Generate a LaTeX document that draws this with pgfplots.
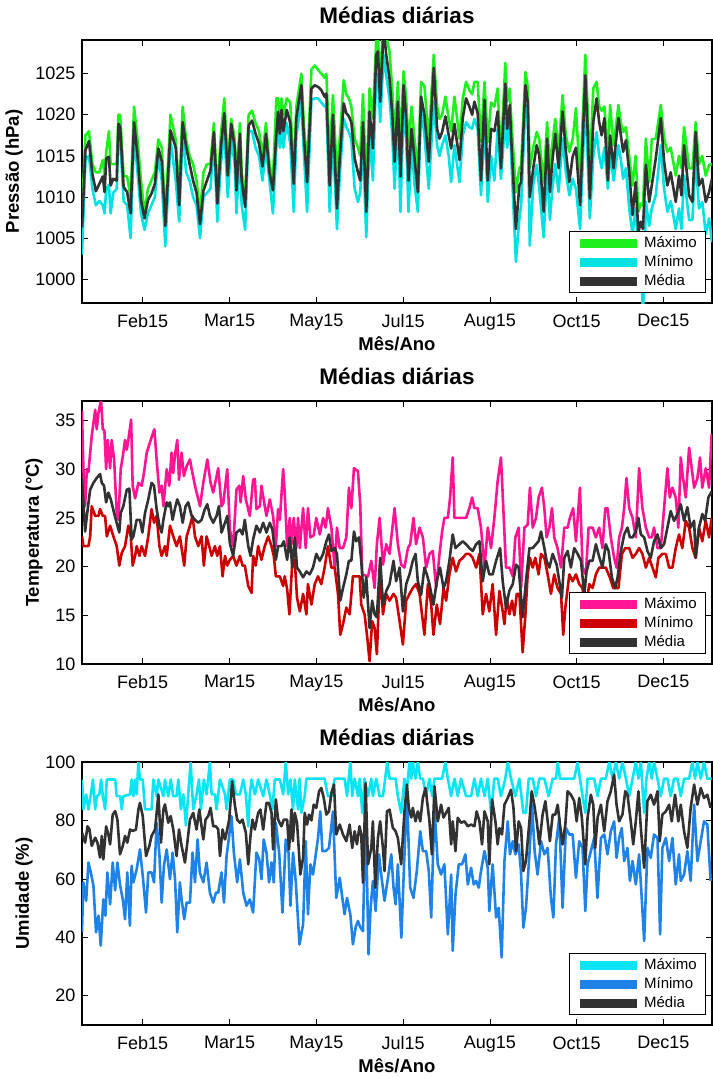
\documentclass[border=0pt]{standalone}
\usepackage{fontspec}
\setmainfont{Liberation Sans}
\usepackage{pgfplots}
\usepackage{pgfplotstable}
\pgfplotsset{compat=1.18}
\definecolor{pmax}{RGB}{30,240,30}
\definecolor{pmin}{RGB}{0,225,225}
\definecolor{avg}{RGB}{50,50,50}
\definecolor{tmax}{RGB}{255,20,147}
\definecolor{tmin}{RGB}{204,0,0}
\definecolor{hmax}{RGB}{10,228,245}
\definecolor{hmin}{RGB}{30,130,230}
\pgfplotsset{
 panel/.style={
  scale only axis, width=630bp, height=263bp,
  xmin=0, xmax=363,
  xtick={35,85,135,185,235,285,335},
  xticklabels={Feb15,Mar15,May15,Jul15,Aug15,Oct15,Dec15},
  tick align=inside, major tick length=6bp,
  tick style={black, line width=0.6bp},
  axis line style={black, line width=1.1bp},
  ticklabel style={font=\fontsize{18bp}{20bp}\selectfont},
  xticklabel style={yshift=-8bp},
  yticklabel style={xshift=-3bp},
  /pgf/number format/assume math mode=true,
  /pgf/number format/1000 sep={},
  title={Médias diárias},
  title style={font=\fontsize{22.5bp}{24bp}\selectfont\bfseries, at={(axis description cs:0.5,1)}, anchor=base, yshift=11bp},
  xlabel={Mês/Ano},
  xlabel style={font=\fontsize{18.5bp}{20bp}\selectfont\bfseries, at={(axis description cs:0.5,0)}, anchor=base, yshift=-47bp},
  ylabel style={font=\fontsize{18.5bp}{20bp}\selectfont\bfseries, yshift=6bp},
  legend style={at={(axis description cs:1,0)}, anchor=south east, xshift=-6bp, yshift=10bp, draw=black, line width=0.8bp, fill=white, font=\fontsize{15bp}{16bp}\selectfont, inner xsep=6bp, inner ysep=2bp, row sep=0bp, nodes={inner ysep=2.5bp, inner xsep=3bp, text height=11bp, text depth=3bp}},
  legend cell align=left,
  legend image code/.code={\draw[#1, line width=9bp] (0bp,0bp) -- (57bp,0bp);},
  every axis plot/.append style={line width=2.6bp, line join=round},
 }
}
\pgfplotstableread[row sep=\\]{
x max min mean\\
0 1008.0 1003.0 1006.3\\
2 1017.5 1014.5 1015.7\\
4 1018.0 1015.0 1016.8\\
6 1014.0 1011.0 1012.8\\
8 1013.0 1009.0 1010.7\\
10 1013.0 1009.5 1011.6\\
12 1014.5 1009.0 1012.5\\
13 1012.5 1008.0 1010.6\\
14 1015.5 1011.0 1014.7\\
15.5 1018.0 1011.5 1014.9\\
16.5 1014.0 1008.0 1011.4\\
18 1014.0 1010.5 1012.2\\
20 1014.0 1011.0 1012.0\\
21 1020.0 1018.0 1018.9\\
22 1020.0 1017.0 1018.5\\
24 1012.5 1009.5 1011.2\\
26 1012.5 1009.0 1010.6\\
28 1010.0 1005.0 1008.0\\
30 1021.0 1017.5 1019.1\\
32 1017.0 1013.0 1015.0\\
34 1012.0 1008.0 1009.6\\
36 1008.0 1006.0 1007.4\\
38 1011.0 1008.0 1009.6\\
40 1012.0 1009.0 1010.4\\
42 1013.0 1010.0 1011.6\\
44 1017.0 1015.0 1015.9\\
46 1016.0 1012.0 1014.3\\
48 1007.5 1004.0 1006.5\\
51 1020.0 1017.0 1018.1\\
54 1017.0 1012.0 1016.0\\
56 1010.5 1007.0 1009.0\\
58 1021.0 1018.0 1019.1\\
60 1017.0 1013.0 1016.1\\
62 1015.0 1012.0 1014.0\\
64 1014.0 1010.0 1012.0\\
66 1012.0 1009.0 1010.5\\
68 1008.0 1005.0 1006.7\\
70 1013.0 1010.0 1010.8\\
72 1014.0 1010.5 1012.0\\
74 1014.0 1011.0 1013.2\\
76 1019.0 1017.0 1017.9\\
78 1010.5 1007.0 1009.2\\
80 1017.5 1014.0 1016.0\\
82 1022.0 1018.0 1020.2\\
84 1014.0 1010.0 1012.6\\
86 1019.5 1017.0 1018.9\\
88 1017.0 1014.0 1016.0\\
89 1012.0 1008.0 1010.8\\
91 1019.0 1016.0 1017.7\\
92 1013.0 1009.0 1012.0\\
94 1010.0 1006.0 1008.8\\
96 1020.0 1018.0 1018.7\\
98 1020.5 1018.0 1019.3\\
100 1019.0 1016.0 1017.7\\
102 1018.0 1015.0 1016.5\\
104 1015.0 1012.0 1013.7\\
106 1019.0 1016.0 1017.7\\
108 1014.0 1012.0 1013.0\\
110 1012.0 1008.0 1010.8\\
112 1022.0 1016.0 1017.7\\
113 1022.0 1019.0 1020.4\\
114 1020.0 1016.0 1017.7\\
115 1022.0 1019.0 1020.6\\
116 1020.0 1016.0 1018.0\\
118 1022.0 1019.0 1020.6\\
120 1021.5 1016.5 1019.0\\
122 1012.5 1008.2 1011.6\\
123.5 1021.0 1017.5 1019.6\\
126.4 1025.0 1021.6 1023.6\\
127.8 1019.0 1015.5 1017.5\\
129.7 1013.5 1008.2 1011.8\\
132.2 1025.5 1021.8 1023.2\\
134.1 1026.0 1022.0 1023.6\\
136 1025.5 1022.0 1023.4\\
137.9 1025.0 1021.5 1023.0\\
139.8 1024.5 1021.0 1022.2\\
140.8 1025.0 1021.0 1022.6\\
142.7 1015.0 1008.2 1011.4\\
144.6 1022.4 1017.5 1020.0\\
146.9 1012.6 1006.1 1008.6\\
148.5 1017.0 1012.5 1014.7\\
150.8 1024.2 1019.5 1021.4\\
152.3 1022.5 1018.5 1020.2\\
153.8 1022.0 1017.9 1019.8\\
155.2 1021.0 1017.0 1019.1\\
157.1 1017.1 1011.0 1014.7\\
159 1016.0 1009.4 1013.0\\
160.3 1015.0 1010.5 1012.0\\
161.9 1022.5 1016.3 1019.1\\
163.8 1011.0 1005.1 1008.2\\
165.7 1023.2 1017.5 1020.4\\
167.6 1019.6 1012.0 1015.9\\
169.5 1029.0 1024.8 1027.3\\
170.5 1029.5 1025.0 1027.7\\
171.8 1024.0 1019.1 1021.6\\
173.8 1032.0 1027.3 1030.5\\
175.3 1029.5 1024.8 1027.3\\
177.2 1027.7 1022.0 1024.4\\
178.8 1023.0 1017.5 1020.0\\
180.1 1017.1 1011.0 1014.3\\
182 1024.0 1019.5 1021.6\\
183.5 1016.5 1008.2 1012.5\\
185.3 1025.3 1021.0 1023.6\\
186.8 1022.0 1017.0 1019.6\\
188.1 1016.3 1008.2 1012.0\\
189.9 1021.0 1016.3 1018.3\\
191.6 1017.0 1011.5 1014.7\\
193.5 1013.5 1008.2 1010.6\\
195.4 1024.0 1021.0 1022.2\\
197.3 1023.5 1017.5 1020.0\\
199.8 1017.0 1011.0 1014.3\\
202.7 1027.3 1021.6 1025.7\\
204.6 1021.0 1016.3 1018.3\\
206 1019.5 1015.0 1017.1\\
207.5 1020.0 1016.3 1017.9\\
209.4 1022.2 1017.5 1019.8\\
211.3 1019.5 1015.0 1017.5\\
212.7 1018.0 1011.8 1015.9\\
214.6 1022.2 1016.3 1018.9\\
217.5 1017.1 1011.8 1014.5\\
219.4 1022.0 1017.5 1019.6\\
221.3 1024.0 1019.1 1022.0\\
223.2 1023.0 1018.5 1021.0\\
224.8 1022.5 1018.3 1020.0\\
226.1 1024.0 1019.5 1021.6\\
228 1024.0 1018.3 1020.2\\
229.9 1016.7 1010.2 1012.0\\
231.9 1024.0 1019.1 1021.8\\
233.8 1016.7 1009.4 1012.0\\
235.7 1021.5 1015.0 1018.3\\
237.6 1021.0 1012.0 1018.0\\
239.5 1023.2 1018.3 1020.4\\
241.4 1015.0 1012.2 1013.5\\
243.9 1026.3 1019.6 1023.8\\
245 1021.6 1016.0 1018.3\\
246.5 1023.2 1019.5 1021.2\\
247.2 1020.0 1015.5 1017.5\\
250 1010.6 1002.1 1006.1\\
252 1013.5 1007.4 1011.4\\
253 1013.8 1009.0 1011.8\\
255.5 1025.2 1021.2 1023.6\\
256.8 1023.5 1019.0 1021.6\\
258 1013.5 1004.1 1010.0\\
260 1016.0 1011.5 1013.5\\
262 1017.9 1013.9 1016.3\\
263.5 1017.0 1011.0 1015.0\\
266 1011.8 1005.1 1008.2\\
268 1019.1 1013.5 1017.1\\
269.6 1013.5 1007.2 1010.6\\
271 1016.5 1011.0 1014.3\\
272.7 1019.5 1014.0 1017.7\\
274.6 1015.5 1010.6 1013.5\\
276.9 1022.4 1017.1 1020.4\\
278.8 1017.5 1013.0 1015.5\\
280.8 1015.5 1010.2 1011.8\\
282.7 1017.0 1012.2 1014.9\\
284.6 1020.8 1011.0 1016.0\\
287 1011.8 1006.1 1009.0\\
290 1027.3 1022.0 1024.8\\
291.3 1021.0 1015.0 1018.3\\
292.6 1013.5 1007.4 1009.8\\
294.6 1023.2 1015.0 1019.1\\
296.5 1024.0 1017.9 1022.0\\
298 1021.0 1015.0 1019.1\\
299.4 1020.5 1013.5 1017.5\\
301 1021.0 1016.0 1019.6\\
303 1015.0 1011.0 1012.0\\
304.3 1021.2 1015.5 1017.5\\
306.3 1016.3 1012.0 1013.5\\
307.6 1018.5 1014.0 1016.7\\
309.1 1021.2 1016.3 1019.6\\
310.5 1019.0 1014.5 1017.5\\
311.8 1017.9 1012.2 1015.5\\
313.4 1018.5 1013.5 1016.9\\
315.3 1015.0 1008.6 1013.0\\
317.2 1011.4 1005.5 1007.8\\
319 1015.0 1008.6 1011.8\\
320.6 1008.2 1002.9 1005.7\\
322 1009.2 1004.0 1007.0\\
323.2 1009.0 995.0 1006.1\\
324.9 1017.1 1009.4 1013.9\\
326.8 1011.8 1006.5 1009.4\\
328.3 1017.0 1008.6 1011.4\\
330.6 1017.1 1010.2 1014.7\\
333.5 1021.2 1016.3 1019.6\\
335.4 1017.1 1011.0 1014.3\\
337.3 1015.5 1008.2 1011.4\\
339.2 1016.0 1009.5 1013.0\\
342.1 1012.6 1006.1 1009.4\\
344 1015.0 1008.6 1012.6\\
345.4 1013.5 1006.1 1010.2\\
346.9 1018.5 1012.6 1016.3\\
349.8 1013.5 1007.2 1010.2\\
351.7 1013.5 1007.2 1009.4\\
353.6 1019.1 1014.7 1017.9\\
355.5 1014.0 1008.6 1011.4\\
357.4 1015.0 1009.4 1012.2\\
359.4 1012.6 1005.5 1009.4\\
361.3 1013.9 1007.4 1010.6\\
363 1014.0 1004.5 1012.2\\
}\ptab
\begin{document}
\begin{tikzpicture}
\useasboundingbox (-82bp,40bp) rectangle (631bp,-1038bp);
% ---------- Pressure ----------
\begin{axis}[panel, at={(0bp,0bp)}, anchor=north west,
  ymin=997.1, ymax=1029.1, ytick={1000,1005,1010,1015,1020,1025},
  ylabel={Pressão (hPa)}]
\addplot[pmax] table[x=x,y=max] {\ptab};
\addplot[pmin] table[x=x,y=min] {\ptab};
\addplot[avg] table[x=x,y=mean] {\ptab};
\legend{Máximo,Mínimo,Média}
\end{axis}
% ---------- Temperature ----------
\begin{axis}[panel, at={(0bp,-361bp)}, anchor=north west,
  ymin=10, ymax=37, ytick={10,15,20,25,30,35},
  ylabel={Temperatura (°C)}]
\addplot[tmax] coordinates {(0,36.0)(0.8,30.0)(1.8,26.2)(2.8,30.0)(3.7,29.7)(5.6,33.4)(7.6,36.1)(8.5,34.1)(9.5,35.8)(10.4,36.6)(11,37.0)(12,34.1)(12.9,34.0)(13.9,30.0)(14.8,33.0)(16.2,30.1)(17.1,33.0)(18.5,31.0)(20,25.5)(21,24.8)(22.3,30.0)(23.5,31.3)(24.8,33.0)(25.8,32.0)(26.7,33.0)(28.3,35.1)(29.2,28.3)(30.6,27.0)(32.5,28.6)(34.4,28.3)(35.7,29.6)(37.3,31.7)(39.6,33.0)(41.7,34.1)(43,31.0)(44.6,27.6)(45.9,28.3)(46.9,26.2)(48.8,30.0)(50.3,28.3)(51.6,31.7)(52.6,29.6)(53.6,31.5)(54.9,33.0)(55.9,28.9)(57.4,31.7)(58.7,29.3)(60.3,30.3)(62.2,31.0)(63.2,30.0)(65.1,28.3)(68,26.2)(69.9,28.6)(72.2,31.0)(74.1,28.6)(75.6,27.6)(78.5,30.1)(80.4,26.2)(81.4,26.5)(83.7,30.0)(85.2,23.8)(87.1,22.1)(89,27.9)(90.6,28.3)(91.4,26.6)(92.9,29.3)(94.4,26.9)(96.7,25.2)(98.6,28.9)(99.6,29.0)(100.5,25.9)(102.5,26.2)(103.4,28.3)(105.3,26.2)(106.3,25.2)(108.2,26.9)(110.1,25.2)(111.7,22.1)(113,25.9)(114,24.8)(115.9,30.0)(116.8,27.6)(118.2,22.1)(119.7,25.0)(120.7,22.3)(122,25.0)(123.5,21.9)(124.5,25.0)(125.5,21.9)(127.4,26.0)(128.9,21.9)(130.2,26.0)(131.6,23.0)(133.5,23.2)(135,25.0)(137,23.3)(138.9,25.0)(140.4,24.0)(141.7,26.0)(143.7,24.0)(145.6,19.9)(146.9,24.0)(148.5,21.9)(150.4,21.9)(152.3,23.0)(153.8,28.1)(155.2,26.0)(156.7,30.1)(159,29.8)(160.3,26.4)(161.5,19.2)(164.8,19.0)(166.7,20.6)(168.6,17.8)(169.9,22.3)(171.5,25.0)(173.4,20.2)(175.3,22.3)(177.2,21.3)(180.1,26.0)(182,22.3)(183.9,20.2)(185.8,19.9)(187.8,21.9)(189.1,22.3)(191,25.0)(192.5,22.3)(194.5,24.0)(196.4,23.0)(198.3,19.9)(200.2,21.3)(202.1,21.6)(204.1,17.8)(206,21.3)(207.5,23.6)(208.8,25.0)(210.8,25.0)(212.1,27.1)(213.6,31.2)(214.6,25.0)(217.5,25.0)(219.4,25.0)(221.3,25.0)(223.2,26.0)(224.8,27.1)(226.1,26.0)(228,26.0)(229.9,24.0)(231.9,19.9)(233.8,24.0)(235.7,21.9)(237.6,25.0)(239.5,28.8)(241.4,31.2)(242.4,27.4)(244.3,19.9)(246.3,19.9)(248.2,19.0)(249.7,23.0)(251.6,24.0)(253,17.8)(254.9,24.0)(256.8,24.3)(258.1,28.1)(259.7,24.0)(261.6,25.0)(263.1,27.1)(265,28.1)(266.4,26.0)(267.7,23.0)(269.3,24.0)(270.8,26.0)(272.1,23.0)(274,21.9)(276,19.9)(277.9,24.0)(279.8,24.0)(281.1,25.0)(283,26.0)(284.6,22.6)(286.9,28.1)(288.4,19.9)(290.3,19.2)(291.9,24.0)(294.2,24.0)(296.1,23.0)(298,24.0)(299.9,21.9)(301.5,26.0)(302.8,26.0)(304.7,23.0)(306.6,20.9)(308,19.9)(309.5,23.0)(311.1,24.0)(312.4,26.0)(313.7,29.1)(315.3,26.0)(317.2,25.0)(319.1,23.0)(321,30.1)(322.9,26.0)(324.9,24.0)(326.8,23.0)(328.3,23.0)(329.6,24.0)(331.6,21.9)(333.5,21.9)(335.4,26.0)(337.3,30.1)(338.7,27.1)(340.2,28.1)(342.1,27.1)(343.6,24.0)(345,31.2)(346.3,29.1)(347.9,27.1)(349.8,32.2)(351.3,30.1)(352.7,28.1)(354.6,29.1)(356.1,31.2)(357.4,28.1)(359.4,30.1)(361.3,28.1)(362.8,33.6)};
\addplot[tmin] coordinates {(0,23.1)(0.8,22.1)(3.7,22.1)(4.7,23.1)(5.6,26.2)(7.6,25.2)(9.5,25.2)(10.4,25.9)(12,25.2)(13.3,25.2)(14.3,23.1)(16.2,24.2)(18.1,23.1)(20,22.1)(21.5,20.1)(22.9,21.4)(24.8,22.1)(26.7,24.2)(28.1,23.1)(29.2,20.1)(30.6,21.1)(31.5,22.1)(33.1,21.1)(34.4,22.1)(36.3,21.1)(38.2,23.1)(40.1,25.9)(41.5,24.5)(43,25.2)(44.6,22.1)(45.9,21.1)(47.8,22.1)(48.8,21.1)(50.7,24.2)(52.6,23.1)(54.5,22.1)(56.4,23.1)(58.9,20.1)(60.3,23.1)(62.2,24.2)(63.7,25.2)(65.1,23.1)(67,22.1)(68.9,23.1)(70.2,20.1)(71.8,23.1)(73.3,22.1)(74.7,21.1)(76.6,22.1)(77.9,21.1)(79.5,22.1)(81,19.0)(82.4,21.1)(83.7,20.1)(85.2,20.7)(87.1,21.1)(89,20.1)(91,21.1)(92.5,20.1)(93.8,20.1)(95.8,18.0)(97.7,17.3)(98.6,21.1)(100.1,20.1)(101.5,22.1)(103.4,20.7)(105.3,22.1)(107.3,23.1)(109.2,22.1)(110.5,21.1)(111.7,19.0)(114,19.0)(115.9,18.0)(116.8,19.0)(118.2,17.7)(119.5,15.1)(121.3,20.9)(122.6,20.6)(123.9,16.8)(125.5,15.4)(127.4,17.2)(129.3,15.1)(130.2,18.2)(132.2,16.1)(134.1,18.2)(136,19.0)(137.9,18.2)(139.8,19.9)(141.7,22.1)(143.7,19.9)(145.6,19.9)(147.5,17.2)(148.8,13.0)(150.4,14.1)(152.3,15.8)(154.2,15.1)(156.1,19.0)(158,19.0)(160,19.0)(160.9,16.1)(162.8,15.1)(164.2,13.0)(165.7,10.3)(167.2,14.4)(168.6,13.7)(169.9,11.0)(171.8,19.9)(173.4,15.1)(175.3,17.2)(177.2,16.5)(179.5,17.2)(181,16.8)(183,14.4)(184.9,12.0)(186.8,16.5)(188.7,17.2)(190.6,17.8)(192.5,18.2)(194.5,17.2)(197.3,13.0)(199.3,18.2)(201.2,16.1)(202.5,13.0)(204.4,16.1)(206.3,14.1)(208.3,17.8)(209.8,16.5)(211.7,19.2)(213.6,20.9)(215.5,19.5)(217.5,20.6)(219.4,20.9)(221.3,21.3)(223.2,21.3)(225.1,20.9)(227.1,19.9)(229,21.3)(230.9,15.1)(232.8,17.2)(234.7,15.4)(236.6,18.2)(238.6,13.0)(240.5,17.5)(242.4,15.4)(243.4,14.1)(244.7,16.8)(246.3,15.1)(247.8,16.5)(249.1,15.0)(250.5,17.2)(252,17.2)(253.9,11.2)(255.5,15.1)(256.8,19.2)(258.1,20.9)(259.7,19.9)(261.2,20.9)(263.1,19.2)(264.5,21.3)(266.4,20.9)(268.3,19.2)(270.2,17.2)(272.1,19.2)(274,17.8)(276,17.2)(277.3,13.0)(278.5,15.8)(280.8,19.2)(282.7,18.5)(284.6,19.2)(286.5,18.2)(288.4,17.8)(290,15.4)(292.3,18.2)(294.2,17.8)(296.1,19.2)(298,19.9)(299.9,19.9)(301.8,19.9)(304.1,18.9)(306.1,17.8)(307.6,17.8)(309.1,17.8)(311.1,21.3)(313,21.9)(315.3,21.9)(317.2,20.9)(319.1,21.3)(321,21.9)(322.9,21.3)(324.9,19.9)(326.8,20.9)(328.7,19.9)(330.6,18.9)(332.1,20.9)(334.4,21.3)(336.4,21.3)(338.3,19.9)(340.2,19.9)(342.1,21.9)(344,23.3)(345.9,21.9)(347.9,24.7)(349.8,24.0)(351.7,21.9)(353.6,20.9)(355.5,24.0)(357.4,22.6)(359.4,24.7)(361.3,23.0)(362.8,25.0)};
\addplot[avg] coordinates {(0,29.0)(1.8,23.6)(2.8,25.2)(4.7,27.9)(6.6,28.6)(8.5,29.1)(10.4,29.5)(11.4,28.6)(12.7,28.3)(13.9,26.6)(15.2,27.6)(16.6,26.9)(18.5,25.5)(20.4,24.2)(21.5,23.5)(22.3,25.5)(23.8,26.2)(25.8,27.9)(27.3,28.0)(28.6,22.8)(29.6,23.1)(31.5,24.8)(33.4,24.8)(34.8,23.5)(36.3,25.5)(38.2,26.9)(40.1,28.6)(41.5,28.3)(43,25.9)(44.6,24.2)(45.9,23.5)(46.9,24.8)(48.8,26.6)(49.7,26.2)(50.7,26.6)(52.2,24.8)(53.6,26.0)(54.9,26.9)(56.4,26.2)(58,24.5)(59.7,26.2)(61.2,26.6)(63.2,25.2)(65.1,24.8)(67,24.5)(68.9,24.8)(70.8,25.9)(72.2,26.4)(73.7,25.2)(75.6,24.5)(77.5,25.2)(78.9,26.2)(80.4,23.5)(81.8,24.2)(83.7,25.2)(85.2,22.4)(87.1,21.1)(89,23.5)(91,23.8)(92.5,23.3)(93.8,24.8)(95.8,22.1)(97.1,21.1)(98.6,22.8)(100.5,24.2)(102.5,23.5)(104.4,24.5)(106.3,23.5)(108.2,24.5)(109.7,23.8)(111.7,20.7)(113,22.1)(114.9,22.1)(116.3,22.6)(118.2,20.7)(119.7,23.0)(121.2,19.9)(122.6,23.0)(123.9,19.9)(125.5,19.5)(127.4,18.9)(129.3,19.5)(131.2,19.2)(133.1,19.9)(135,21.3)(137,20.6)(138.9,21.3)(140.8,22.6)(142.3,23.3)(143.7,21.6)(145.6,21.9)(146.9,21.3)(148.8,16.5)(150.4,17.8)(152.3,19.2)(153.8,20.6)(155.2,20.6)(156.7,23.6)(158,22.6)(159.6,23.0)(160.9,20.6)(162.3,16.8)(163.8,18.9)(165.7,13.7)(167.2,16.5)(168.6,15.1)(169.9,14.8)(171.8,20.9)(173.4,16.1)(175.3,17.5)(177.2,18.2)(179.5,20.6)(181,18.5)(183,19.9)(184.9,15.4)(186.8,18.2)(188.7,19.2)(190.6,20.6)(192.2,21.3)(193.5,18.5)(195.4,17.1)(197.3,19.9)(198.7,19.2)(200.2,18.2)(202.5,16.1)(204.4,18.5)(206.3,19.9)(208.3,17.8)(209.8,18.5)(211.7,20.6)(213.6,23.3)(215.2,21.9)(217.5,22.3)(219.4,22.6)(221.3,22.3)(223.2,21.9)(225.1,21.6)(227.1,22.3)(229,22.6)(230.9,18.5)(232.8,20.6)(234.7,19.2)(236.6,19.2)(238.6,20.6)(240.9,21.9)(242.4,18.5)(244.3,15.8)(246.2,17.5)(248.2,18.2)(250.1,20.2)(251.6,19.9)(253.9,14.8)(255.8,18.5)(257.8,21.9)(259.7,21.9)(261.6,22.3)(263.1,22.6)(264.5,23.6)(266.4,21.9)(267.7,20.6)(269.3,19.9)(271.2,21.3)(273.5,20.2)(275,18.5)(276.5,16.8)(277.9,20.9)(279.8,21.6)(281.7,19.9)(283.6,21.9)(285.6,21.3)(287.5,20.6)(289.4,17.1)(290.7,19.5)(292.3,20.6)(294.2,20.6)(296.1,22.3)(298,21.0)(299.9,19.9)(301.8,22.3)(303.4,21.6)(305.3,18.9)(307.2,17.8)(308.6,18.9)(310.5,21.6)(312.4,23.3)(314.3,24.0)(315.7,23.0)(317.2,23.0)(319.1,23.6)(320.6,25.0)(322,23.3)(323.9,23.0)(325.8,21.6)(327.7,20.9)(329.6,22.6)(331.6,23.3)(333.5,21.9)(335.4,22.3)(337.3,24.0)(339.2,25.7)(341.1,24.7)(343.1,25.4)(345,26.4)(346.9,24.7)(348.8,26.1)(350.7,24.0)(352.7,24.7)(353.6,20.9)(355.5,24.0)(357.4,25.4)(359,24.7)(360.9,27.1)(362.8,27.7)};
\legend{Máximo,Mínimo,Média}
\end{axis}
% ---------- Humidity ----------
\begin{axis}[panel, at={(0bp,-722bp)}, anchor=north west,
  ymin=10, ymax=100, ytick={20,40,60,80,100},
  ylabel={Umidade (\%)}]
\addplot[hmax] coordinates {(0,94)(0.8,83.8)(2.4,88.9)(3.7,83.8)(5.1,88.9)(6.3,94)(7.6,83.8)(8.5,88.3)(10,88.9)(11,94)(12,88.3)(13.3,83.8)(14.3,94)(19.1,94)(20,88.3)(22,88.3)(22.9,83.8)(23.8,88.3)(27.7,88.9)(28.6,94)(29.6,88.3)(30.6,94)(31.5,88.9)(32.5,100)(33.4,94)(35,94)(36.3,83.8)(40.1,83.8)(41.1,94)(43,88.3)(44,94)(46.9,88.3)(47.8,94)(49.7,88.3)(51.1,94)(52.6,88.3)(54.5,88.3)(55.5,94)(57,83.8)(58.4,88.9)(59.9,78.3)(61.2,88.9)(62.6,100)(64.1,83.8)(66,88.9)(67.4,94)(68.5,83.8)(70.2,94)(71.8,88.9)(73.7,100)(74.7,88.9)(76.6,88.9)(77.5,83.8)(79.5,94)(82.4,88.9)(83.3,83.8)(85.2,94)(87.1,94)(88.7,88.9)(91,88.9)(92.9,94)(94.4,88.9)(95.8,78)(96.7,88.9)(97.7,94)(99.6,88.9)(101.5,94)(104.4,88.3)(106.3,94)(108.2,88.9)(109.7,83.8)(111.1,94)(114,94)(115.9,88.9)(117.4,100)(118.8,88.9)(120.1,94)(121.6,83.8)(122.6,94)(124.5,83.8)(125.4,94.3)(126.4,82.6)(128.3,88.3)(129.3,94.3)(134.1,94.3)(137,94.3)(139.8,94.3)(141.7,88.3)(143.7,88.3)(145.6,94.3)(151.3,94.3)(152.7,88.3)(154.6,100)(155.7,88.3)(157.1,94.3)(159,88.3)(160,94.3)(161.5,82.6)(162.8,94.3)(164.8,88.3)(166.7,94.3)(167.6,88.3)(169.5,94.3)(171.5,88.3)(173.4,88.3)(175.9,100)(177.2,94.3)(180.7,94.3)(182,88.3)(183.9,82.6)(185.8,94.3)(186.8,88.3)(188.7,100)(189.7,94.3)(190.6,100)(192.2,94.3)(193.5,100)(194.9,94.3)(196.4,94.3)(198.3,88.3)(200.2,94.3)(201.8,88.3)(203.1,94.3)(205,94.3)(207.5,94.3)(209.4,100)(210.8,94.3)(212.7,88.3)(214.6,94.3)(216.5,88.3)(218.4,94.3)(221.3,88.3)(224.2,88.3)(226.1,94.3)(228,88.3)(229.9,94.3)(231.9,88.3)(233.8,94.3)(235.7,82.6)(237.6,94.3)(239.5,94.3)(241.4,88.3)(243.9,94.3)(245.3,100)(247.2,94.3)(249.7,88.3)(252,94.3)(254.3,82.6)(255.8,82.6)(257.4,94.3)(259.7,94.3)(261.6,88.3)(263.5,94.3)(266.4,94.3)(268.9,88.3)(271.2,94.3)(273.1,94.3)(274.1,100)(275.4,94.3)(277.9,94.3)(280.8,94.3)(283.6,94.3)(285.6,100)(286.9,94.3)(288.4,88.3)(290,82.6)(291.3,94.3)(295.1,94.3)(297.1,88.3)(299,94.3)(301.8,94.3)(303.8,100)(305.7,94.3)(307.6,100)(309.5,94.3)(311.4,100)(313.4,94.3)(315.3,88.3)(317.2,94.3)(319.1,100)(320.6,94.3)(322,100)(323.9,82.6)(325.2,94.3)(326.8,100)(328.3,94.3)(329.6,100)(331.6,94.3)(333.5,88.3)(335.4,94.3)(337.3,94.3)(339.2,88.3)(341.1,94.3)(343.1,94.3)(345,88.3)(346.9,94.3)(349.8,94.3)(351.7,100)(353.2,94.3)(354.6,100)(356.5,94.3)(358.4,100)(360.3,94.3)(362.8,94.3)};
\addplot[hmin] coordinates {(0,41.7)(0.8,58.8)(2.4,52.5)(3.7,65.6)(5.1,62.2)(6.6,57.6)(8.1,41.7)(9.5,47.4)(10.8,37.2)(12.3,53)(13.5,47.4)(14.6,62.2)(16.2,51.3)(17.7,65.6)(19.1,56.1)(20.4,65.6)(22,57.6)(23.5,53)(24.8,46.2)(26.1,62.2)(27.6,44)(28.6,64.5)(29.6,58.8)(31.5,63.3)(33.4,70.1)(35,61.1)(36.9,48.5)(38.2,62.2)(40.1,62.2)(41.5,58.8)(43,79.2)(44.6,68.4)(45.9,51.9)(47.2,64.5)(48.8,70.1)(50.7,59.9)(52.2,69)(53.6,59.9)(54.9,41.7)(56.4,58.8)(57.4,53)(58.9,46.2)(60.3,51.9)(62.2,51.9)(63.7,69)(65.1,58.8)(66.6,73.5)(67.9,62.2)(69.9,58.8)(71.8,65.6)(73.7,55.3)(75.6,51.9)(77.2,55.3)(78.5,55.3)(80.4,62.2)(81.8,51.9)(83.3,67.8)(84.8,74.7)(86.1,81.5)(87.5,69)(89.4,58.8)(91,66.7)(92.9,55.3)(94.8,50.8)(96.7,53)(98.6,48.5)(100.5,69)(102.1,66.7)(103.4,59.9)(104.7,73.5)(106.3,69)(107.8,58.8)(109.2,65.6)(110.5,58.8)(111.7,79.2)(113.6,69)(115.5,48.5)(117.4,73.5)(119,69)(120.1,50.8)(121.6,69)(123.2,58.8)(125.3,37.6)(127.4,44.5)(128.9,72.9)(130.2,47.9)(131.6,65)(133.1,61.5)(134.7,68.4)(136,74)(137.3,83.1)(138.5,69.5)(140.4,69.5)(142.3,70.6)(144.6,83.1)(146.5,53.5)(148.5,60.4)(150,53.5)(151.3,47.9)(152.7,53.5)(154.6,47.9)(156.1,37.6)(157.7,43.5)(159,45.6)(160.3,43.5)(161.9,42.1)(163.4,84.3)(165.1,34.2)(166.3,50.1)(167.6,59.3)(169.2,49)(171.1,68.4)(172.4,61.5)(174.3,52.5)(176.3,60.4)(178.2,68.4)(179.5,57)(180.7,51.3)(182,65)(184,39.9)(185.8,68.4)(187.2,88.8)(189.1,57)(191,53.5)(192.9,62.7)(194.9,76.3)(196.4,69.5)(198.3,69.5)(199.8,62.7)(201.2,46.8)(203.1,84.3)(205,65)(206.9,61.5)(208.8,65)(210.8,41)(212.7,61.5)(213.6,35.4)(215.2,54.7)(217.1,65)(219,65)(220.9,68.4)(222.3,58.1)(224.2,63.8)(225.7,58.1)(227.1,59.3)(228.6,57)(229.9,62.7)(231.9,69.5)(233.8,63.8)(234.7,49)(236.6,65)(238.6,46.8)(240.1,50.1)(241.8,33.1)(243.4,66.1)(245.3,79.7)(246.6,68.4)(248.2,72.9)(249.7,68.4)(251.6,71.8)(252.9,62.7)(254.3,43.3)(255.8,50.1)(257.8,68.4)(259.3,85.4)(260.8,69.5)(262.5,61.5)(264.5,72.9)(266.4,68.4)(268.3,70.6)(270.2,53.5)(271.6,46.8)(273.1,71.8)(275,80.9)(276.9,50.1)(278.8,77.4)(280.8,75.2)(282.7,75.2)(284.6,60.4)(286.5,72.9)(288.4,70.6)(290,49)(291.3,65)(293.2,69.5)(295.1,74)(297,53.5)(299,74)(300.9,75.2)(302.8,68.4)(304.7,76.3)(306.6,79.7)(308,67.2)(309.5,74)(311,77.4)(312.4,66.1)(314.3,70.6)(315.7,59.3)(317.2,66.1)(319.1,58.1)(321,68.4)(322.6,52.5)(323.9,38.8)(325.8,70.6)(327.7,67.2)(329.6,75.2)(331.6,74)(333.1,41)(334.4,70.6)(336.4,74)(338.3,66.1)(340.2,74)(342.1,58.1)(344,68.4)(345,59.3)(346.9,61.5)(348.8,69.5)(350.7,59.3)(352.7,85.4)(354.6,66.1)(356.5,72.9)(358.4,79.7)(360.3,78.6)(362.2,59.3)};
\addplot[avg] coordinates {(0,75.8)(1.8,72.4)(3.2,78)(4.3,77)(5.6,71.3)(7.6,74.1)(8.9,72.4)(10.4,67.3)(11.4,74.7)(12.3,66.7)(13.9,78)(15.2,75.2)(16.2,71.8)(17.7,82)(19.1,83.2)(20.4,80.3)(21.9,68.4)(23.5,71.3)(24.8,74.7)(26.1,72.4)(27.7,76.9)(29.2,76.4)(31.1,76.9)(32.5,83.75)(33.4,86)(35,81.5)(36.9,67.8)(38.8,71.3)(40.1,74.7)(42.1,76.9)(44,88.9)(45.5,72.4)(46.9,83.75)(47.8,85.5)(49.7,79.2)(51.1,81.5)(52.6,76.9)(54.5,67.8)(55.9,76.9)(57.4,71.3)(59.3,65.6)(60.7,72.4)(62.2,80.3)(64.1,82.6)(66,76.9)(67.6,83.75)(69.9,73.5)(71.2,80.3)(72.7,81.5)(74.1,84.3)(75.6,78)(77.2,78)(78.5,76.9)(79.5,67.8)(81,76.9)(82.4,73.5)(83.3,75.8)(84.8,80.3)(86.5,93.4)(88.1,85.2)(89.4,80.3)(91,79.2)(92.5,80.3)(94.4,75.8)(95.8,65)(97.1,74.7)(98.2,80.3)(99.6,76.9)(101.5,82.6)(102.8,83.75)(104.4,76.9)(106.3,86)(107.7,86)(109.2,82.6)(110.1,70.1)(111.7,87.2)(113,80.3)(114.9,78)(116.3,80.3)(118.2,80.3)(119.3,70.1)(120.7,83.75)(121.5,72.9)(122.6,82.6)(123.9,79.2)(125.1,68.4)(125.8,61.5)(127.4,67.3)(128.3,82.6)(129.7,78.6)(130.8,82)(132.2,80)(133.5,85.4)(135,84.3)(136.6,90)(137.9,91.1)(139.3,87.7)(140.8,82)(142.3,83.1)(143.7,89.4)(145.2,92.3)(146.5,75.2)(148.5,78.6)(150.4,75.2)(152.3,72.9)(154.2,78.6)(155.7,70.6)(157.1,76.3)(158.4,71.8)(159.9,78)(160.9,75.2)(161.9,58.7)(163.4,92.8)(164.8,65)(166.7,70.6)(167.6,79.7)(169,57)(170.5,74)(171.8,79.7)(173.4,70.6)(174.3,62.7)(175.7,83.1)(177.2,83.7)(179.1,77.5)(180.7,76.3)(182,74)(183.9,65)(185.8,83.1)(187.2,92.3)(188.3,84.3)(189.7,81)(190.6,84.3)(192.2,79.7)(193.5,83.1)(194.9,79.7)(196.4,87.7)(197.9,91.1)(199.3,84.3)(200.2,79.7)(201.6,68.4)(203.1,91.7)(205,79.7)(206.9,85.4)(208.3,81)(209.8,82.6)(211.3,84.3)(212.7,71.8)(213.6,79.7)(215.2,69.5)(216.5,80.9)(218.4,79.2)(220.4,79.7)(222.3,78)(224.2,78.6)(226.1,78)(227.4,83.1)(229,79.7)(230.5,71.8)(231.9,83.1)(233.8,79.7)(234.7,65)(236.3,87.2)(238.2,79.7)(239.5,71.8)(240.5,77.4)(242,75.2)(243.4,85.4)(245.3,87.7)(247.2,90.5)(248.6,84.3)(250.1,69.5)(251.6,79.7)(253,77.4)(254.3,62.7)(255.8,66.1)(257.8,79.7)(259.1,90)(260.6,85.4)(262,79.7)(263.5,71.8)(265.4,82)(267,86.6)(268.3,79.7)(269.6,72.9)(271.2,82)(272.7,82)(274.1,85.4)(275.4,78.6)(276.9,71.8)(278.5,78.6)(279.8,90)(281.7,88.8)(283.6,86.6)(285,79.7)(286.5,87.7)(288,81)(290,65)(291.3,81)(293.2,88.8)(294.6,85.4)(295.7,70.6)(297.1,81)(299,85.4)(300.9,76.3)(302.8,86.6)(304.7,90)(306.6,95.7)(308,85.4)(309.5,79.7)(311.4,82)(313,90)(314.3,88.8)(316.2,79.7)(317.6,71.8)(319.1,79.7)(320.6,90)(322,77.4)(323.9,63.8)(325.8,86.6)(327.7,88.8)(329.6,85.4)(331.6,90)(332.9,72.9)(334.4,82)(336.4,83.1)(338.3,85.4)(339.8,79.7)(341.7,88.8)(343.6,79.7)(345,85.4)(346.9,76.3)(348.8,70.6)(350.7,84.3)(352.7,92.3)(354.6,85.4)(356.5,91.1)(358.4,87.7)(360.3,88.8)(362.2,84.3)};
\legend{Máximo,Mínimo,Média}
\end{axis}
\end{tikzpicture}
\end{document}
